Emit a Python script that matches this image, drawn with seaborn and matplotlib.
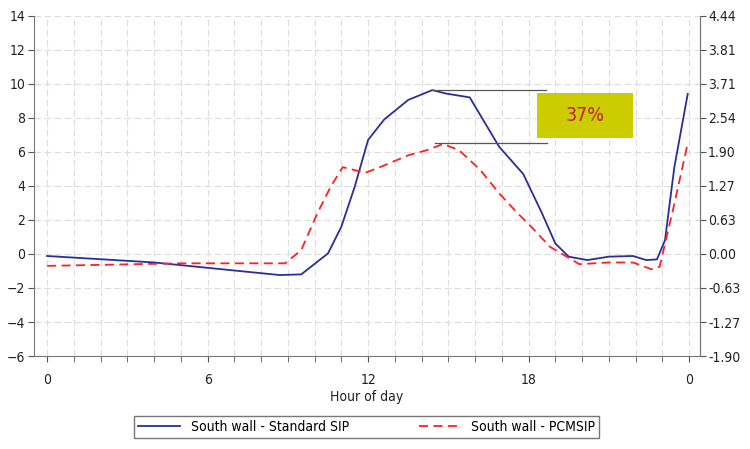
import numpy as np
import pandas as pd
import matplotlib
matplotlib.use("Agg")
import matplotlib.pyplot as plt
import seaborn as sns
from matplotlib.patches import Rectangle

plt.rcParams['font.family'] = ['DejaVu Sans']
plt.rcParams['font.stretch'] = 'condensed'

# data
std_hours = [0, 4, 8.7, 9.5, 10.5, 11, 11.5, 12, 12.6, 13.5, 14.4, 14.9, 15.8, 16.9, 17.8,
             18.5, 19, 19.5, 20.2, 21, 21.9, 22.4, 22.8, 23.1, 23.45, 23.95]
std_vals = [-0.12, -0.5, -1.24, -1.2, 0.03, 1.6, 3.95, 6.7, 7.9, 9.05, 9.63, 9.43, 9.2, 6.3, 4.7,
            2.4, 0.62, -0.16, -0.36, -0.16, -0.12, -0.36, -0.32, 0.8, 5.1, 9.4]
pcm_hours = [0, 5, 8.9, 9.5, 10.1, 10.6, 11.05, 11.9, 12.6, 13.5, 14.2, 14.8, 15.4, 16.2, 16.9,
             17.6, 18.1, 18.8, 19.9, 21, 21.9, 22.6, 22.9, 23.4, 23.95]
pcm_vals = [-0.7, -0.55, -0.55, 0.23, 2.38, 3.95, 5.1, 4.77, 5.2, 5.8, 6.1, 6.46, 6.1, 4.93, 3.56,
            2.38, 1.6, 0.42, -0.6, -0.5, -0.5, -0.9, -0.75, 2.6, 6.5]
x_ticks = [0, 6, 12, 18, 24]
x_labels = ['0', '6', '12', '18', '0']
left_ticks = [14, 12, 10, 8, 6, 4, 2, 0, -2, -4, -6]
right_labels = ['4.44', '3.81', '3.71', '2.54', '1.90', '1.27', '0.63', '0.00', '-0.63', '-1.27', '-1.90']

std_df = pd.DataFrame({'hour': std_hours, 'val': std_vals})
pcm_df = pd.DataFrame({'hour': pcm_hours, 'val': pcm_vals})

fig = plt.figure(figsize=(7.5, 4.49), dpi=100)
ax = fig.add_axes([0.045, 0.207, 0.888, 0.758])

sns.lineplot(data=std_df, x='hour', y='val', ax=ax, color='#2a2e9c', lw=1.3,
             label='South wall - Standard SIP')
sns.lineplot(data=pcm_df, x='hour', y='val', ax=ax, color='#ff2020', lw=1.3,
             linestyle=(0, (5, 3)), label='South wall - PCMSIP')

ax.set_xlim(-0.5, 24.4)
ax.set_ylim(-6, 14)
ax.set_xticks(x_ticks)
ax.set_xticklabels(x_labels)
ax.set_xticks(np.arange(0, 25, 1), minor=True)
ax.set_yticks(left_ticks)
ax.grid(True, which='major', axis='y', color='#dddddd', linestyle=(0, (6, 3)), lw=0.8)
ax.grid(True, which='both', axis='x', color='#dddddd', linestyle=(0, (6, 3)), lw=0.8)
ax.set_axisbelow(True)
ax.spines['top'].set_visible(False)
for s in ['left', 'bottom', 'right']:
    ax.spines[s].set_color('#777777')
ax.tick_params(axis='x', which='major', length=4, color='#555555', labelsize=10, pad=8, labelcolor='#222222')
ax.tick_params(axis='x', which='minor', length=4, color='#555555')
ax.tick_params(axis='y', length=4, color='#555555', labelsize=10, pad=2, labelcolor='#222222')
ax.set_xlabel('Hour of day', fontsize=10, labelpad=2, color='#222222')
ax.set_ylabel('')

ax2 = ax.twinx()
ax2.set_ylim(-6, 14)
ax2.set_yticks(left_ticks)
ax2.set_yticklabels(right_labels)
ax2.tick_params(axis='y', length=4, color='#555555', labelsize=10, pad=2, labelcolor='#222222')
for s in ['top', 'left', 'bottom']:
    ax2.spines[s].set_visible(False)
ax2.spines['right'].set_color('#777777')

# 37% annotation
ax.plot([14.4, 18.65], [9.63, 9.63], color='#555555', lw=0.9)
ax.plot([14.5, 18.7], [6.54, 6.54], color='#555555', lw=0.9)
ax.add_patch(Rectangle((18.3, 6.8), 3.6, 2.64, facecolor='#cccc00', edgecolor='none', zorder=5))
ax.text(20.1, 8.12, '37%', color='#c0203a', fontsize=14, ha='center', va='center', zorder=6)

ax.legend(loc='upper center', bbox_to_anchor=(0.5, -0.155), ncol=2, frameon=True, fancybox=False,
          edgecolor='#555555', fontsize=10, borderpad=0.3, columnspacing=5, handlelength=3)

fig.savefig('out.png', dpi=100)
